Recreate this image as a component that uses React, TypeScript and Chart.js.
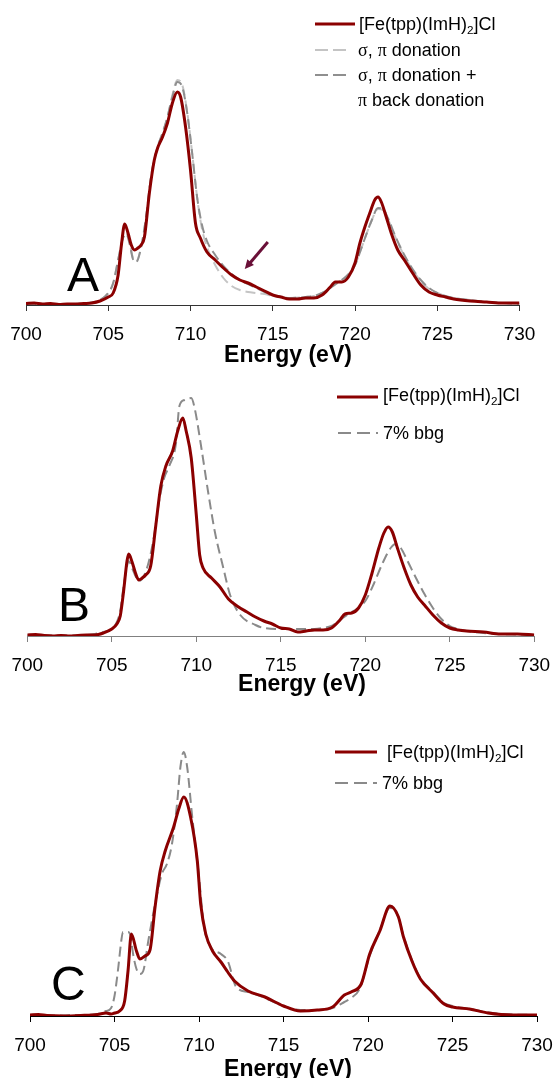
import React, { useEffect, useRef } from "react";
import { Chart, registerables } from "chart.js";

Chart.register(...registerables);

const FONT = "'Liberation Sans', Arial, Helvetica, sans-serif";
const SERIF = "'Liberation Serif', 'DejaVu Serif', 'Times New Roman', serif";
const RED = "#8B0000";
const GREY_LIGHT = "#c4c4c4";
const GREY_DARK = "#8f8f8f";
const GREY_B = "#8a8a8a";
const ARROW_COLOR = "#6a1038";

// ---------------- DATA ----------------
const X_MIN = 700;
const X_MAX = 730;
const X_STEP = 5;

// Panel A: experimental spectrum
const A_EXP_E = [700, 700.5, 701, 701.5, 702, 702.5, 703, 703.5, 704, 704.5, 705, 705.3, 705.6, 705.8, 706, 706.2, 706.4, 706.6, 706.8, 707, 707.2, 707.5, 707.8, 708, 708.3, 708.6, 708.9, 709.2, 709.4, 709.7, 710, 710.3, 710.6, 711, 711.5, 712, 712.5, 713, 713.5, 714, 714.5, 715, 715.5, 716, 716.5, 717, 717.5, 718, 718.5, 718.8, 719.2, 719.6, 720, 720.3, 720.6, 720.9, 721.2, 721.4, 721.6, 721.9, 722.2, 722.6, 723, 723.5, 724, 724.5, 725, 725.5, 726, 727, 728, 729, 730];
const A_EXP_I = [1.5, 2, 1, 1.5, 0.5, 1, 1, 1.5, 2, 4, 8, 12, 30, 60, 81, 72, 60, 55, 57, 60, 68, 112, 145, 157, 168, 182, 202, 213, 208, 178, 135, 82, 67, 53, 45, 37, 30, 25, 22, 18, 14, 10, 8, 6, 6, 7, 7, 10, 18, 23, 23, 28, 42, 62, 78, 92, 105, 108, 103, 88, 72, 55, 45, 32, 20, 13, 10, 8, 6, 4, 3, 2, 2];

// Panel A: sigma, pi donation
const A_SP_E = [700, 701, 702, 703, 703.5, 704, 704.5, 705, 705.3, 705.6, 705.9, 706.1, 706.3, 706.5, 706.7, 707, 707.3, 707.6, 708, 708.3, 708.6, 708.9, 709.2, 709.5, 709.8, 710.1, 710.4, 710.7, 711, 711.5, 712, 712.5, 713, 713.5, 714, 714.5, 715, 715.5, 716, 717, 717.5, 718, 718.5, 719, 719.5, 720, 720.5, 721, 721.4, 721.7, 722, 722.5, 723, 723.5, 724, 724.5, 725, 725.5, 726, 727, 728, 729, 730];
const A_SP_I = [0.5, 0.5, 0.5, 1, 1.5, 2.5, 5, 12, 22, 45, 68, 72, 62, 47, 44, 58, 88, 128, 158, 172, 188, 210, 225, 220, 193, 152, 108, 76, 58, 40, 27, 19, 15, 13, 12, 11, 9, 8, 7, 8, 9, 12, 17, 23, 29, 40, 62, 84, 96, 95, 86, 66, 49, 35, 24, 16, 12, 9, 7, 5, 3, 2, 1];

// Panel A: sigma, pi donation + pi back donation
const A_SPB_E = [700, 702, 703, 704, 704.5, 705, 705.3, 705.6, 705.9, 706.1, 706.3, 706.5, 706.7, 707, 707.3, 707.6, 708, 708.3, 708.6, 708.9, 709.2, 709.5, 709.8, 710.1, 710.4, 710.7, 711, 711.5, 712, 712.5, 713, 713.5, 714, 714.5, 715, 715.5, 716, 717, 717.5, 718, 718.5, 719, 719.5, 720, 720.5, 721, 721.4, 721.7, 722, 722.5, 723, 723.5, 724, 724.5, 725, 725.5, 726, 727, 728, 729, 730];
const A_SPB_I = [0.5, 0.5, 1, 2.5, 5, 12, 22, 45, 67, 71, 61, 46, 43, 58, 88, 128, 158, 172, 188, 208, 223, 218, 192, 152, 108, 80, 64, 50, 39, 31, 25, 21, 17, 13, 10, 8, 7, 8, 9, 12, 17, 23, 29, 40, 62, 84, 97, 96, 87, 67, 50, 36, 25, 17, 12, 9, 7, 5, 3, 2, 1];

// Panel B: experimental spectrum
const B_EXP_E = [700, 700.5, 701, 701.5, 702, 702.5, 703, 703.5, 704, 704.5, 705, 705.3, 705.5, 705.7, 705.9, 706, 706.2, 706.4, 706.6, 706.8, 707, 707.3, 707.6, 707.9, 708.2, 708.6, 708.9, 709.2, 709.4, 709.7, 710, 710.2, 710.4, 710.9, 711.4, 711.9, 712.5, 713, 713.5, 714, 714.5, 715, 715.5, 716, 716.5, 717, 717.5, 718, 718.5, 718.8, 719.2, 719.6, 720, 720.4, 720.8, 721.1, 721.35, 721.6, 721.9, 722.3, 722.7, 723.1, 723.5, 724, 724.5, 725, 725.5, 726, 727, 728, 729, 730];
const B_EXP_I = [1, 1.5, 0.5, 0, 0.5, 0, 0.5, 1, 1, 3, 7, 12, 20, 45, 75, 82, 74, 63, 56, 58, 61, 70, 110, 150, 170, 185, 205, 218, 205, 178, 121, 81, 68, 58, 49, 37, 29, 24, 19, 15, 12, 8, 7, 4, 5, 6, 6, 8, 16, 22, 23, 28, 41, 63, 88, 103, 109, 104, 88, 68, 51, 39, 31, 21, 13, 8, 6, 5, 4, 2, 2, 1];

// Panel B: 7% bbg
const B_BBG_E = [700, 702, 703, 704, 704.5, 705, 705.3, 705.5, 705.7, 705.9, 706, 706.2, 706.4, 706.6, 706.9, 707.2, 707.5, 707.8, 708.1, 708.4, 708.8, 709, 709.3, 709.7, 709.9, 710.3, 710.7, 711.1, 711.6, 712, 712.6, 713.5, 714, 715, 716, 717, 717.5, 718, 718.5, 719, 719.5, 720, 720.5, 721, 721.5, 721.8, 722.1, 722.5, 723, 723.5, 724, 724.5, 725, 725.5, 726, 727, 728, 729, 730];
const B_BBG_I = [0.5, 0.5, 0.5, 2, 4, 7, 14, 25, 50, 70, 75, 68, 60, 55, 60, 75, 100, 135, 158, 170, 193, 230, 236, 238, 228, 188, 144, 104, 68, 41, 21, 11, 8, 7, 7, 7, 8, 10, 16, 22, 27, 35, 52, 72, 88, 92, 88, 75, 58, 42, 28, 17, 10, 7, 5, 3, 2, 1.5, 1];

// Panel C: experimental spectrum
const C_EXP_E = [700, 700.5, 701, 702, 703, 704, 704.5, 704.8, 705, 705.3, 705.6, 705.8, 706, 706.3, 706.5, 706.8, 707.1, 707.4, 707.7, 708, 708.5, 708.8, 709.1, 709.5, 709.9, 710.1, 710.4, 710.8, 711.3, 711.7, 712.1, 712.9, 713.9, 715, 716, 717, 717.9, 718.6, 719, 719.6, 720.1, 720.7, 721.3, 721.8, 722.1, 722.6, 723.1, 723.8, 724.5, 725, 726, 727.1, 728.6, 730];
const C_EXP_I = [1, 1.5, 0.5, 0, 0.5, 1.5, 3, 2, 3, 5, 15, 45, 82, 65, 57, 60, 66, 109, 145, 165, 189, 207, 219, 199, 155, 112, 82, 65, 54, 44, 35, 25, 19, 10, 5, 6, 9, 21, 24, 32, 62, 85, 110, 99, 79, 55, 37, 24, 12, 9, 7, 3, 1, 1];

// Panel C: 7% bbg
const C_BBG_E = [700, 702, 702.5, 703, 704, 704.5, 704.8, 705, 705.2, 705.4, 705.5, 705.8, 705.95, 706.1, 706.3, 706.5, 706.7, 707, 707.4, 707.8, 708.1, 708.4, 708.7, 708.9, 709.1, 709.3, 709.6, 710, 710.3, 710.7, 711.3, 711.7, 712.2, 712.9, 713.9, 715, 716, 717, 717.9, 718.6, 719, 719.5, 720.1, 720.7, 721.3, 721.8, 722.1, 722.6, 723.1, 723.8, 724.5, 725, 726, 727, 728, 730];
const C_BBG_I = [0.5, 0.5, 1, 1, 2, 5, 8, 20, 45, 75, 84, 84, 80, 62, 47, 42, 45, 75, 112, 142, 152, 172, 212, 249, 264, 249, 199, 139, 89, 69, 62, 55, 29, 24, 18, 10, 6, 6, 8, 14, 18, 27, 60, 86, 108, 99, 80, 56, 38, 25, 13, 10, 7, 4, 2, 1];

// Arrow annotation in panel A (energy, intensity)
const ARROW_TAIL = [714.7, 63];
const ARROW_TIP = [713.3, 36];

// Legend labels
const LEGEND_A = ["[Fe(tpp)(ImH)2]Cl", "σ, π donation", "σ, π donation + π back donation"];
const LEGEND_BC = ["[Fe(tpp)(ImH)2]Cl", "7% bbg"];
const AXIS_TITLE = "Energy (eV)";

// ---------------- CHART ----------------
type Series = { label: string; e: number[]; v: number[]; color: string; width: number; dash: number[] };

const arrowPlugin = {
  id: "arrowNote",
  afterDatasetsDraw(chart: any, _args: any, opts: any) {
    if (!opts || !opts.tail) return;
    const xs = chart.scales.x;
    const ys = chart.scales.y;
    const x1 = xs.getPixelForValue(opts.tail[0]);
    const y1 = ys.getPixelForValue(opts.tail[1]);
    const x2 = xs.getPixelForValue(opts.tip[0]);
    const y2 = ys.getPixelForValue(opts.tip[1]);
    const ang = Math.atan2(y2 - y1, x2 - x1);
    const head = 10;
    const ctx = chart.ctx;
    ctx.save();
    ctx.strokeStyle = opts.color;
    ctx.fillStyle = opts.color;
    ctx.lineWidth = 3;
    ctx.beginPath();
    ctx.moveTo(x1, y1);
    ctx.lineTo(x2 - Math.cos(ang) * head * 0.8, y2 - Math.sin(ang) * head * 0.8);
    ctx.stroke();
    ctx.beginPath();
    ctx.moveTo(x2, y2);
    ctx.lineTo(x2 - head * Math.cos(ang - 0.45), y2 - head * Math.sin(ang - 0.45));
    ctx.lineTo(x2 - head * Math.cos(ang + 0.45), y2 - head * Math.sin(ang + 0.45));
    ctx.closePath();
    ctx.fill();
    ctx.restore();
  },
};

const TICK_FONT_SIZE = 19;
const TICK_LINE = 43; // px line box for tick labels
const TICK_LEN = 6;
const TICK_PAD = 2;
const AXIS_BOX = TICK_LEN + TICK_LINE + 2 * TICK_PAD;

function Panel(props: {
  top: number;
  axisY: number;
  padLeft: number;
  padRight: number;
  padTop: number;
  axisColor: string;
  series: Series[];
  arrow?: boolean;
}) {
  const ref = useRef<HTMLCanvasElement | null>(null);
  const height = props.axisY - props.top + AXIS_BOX;
  const yMax = props.axisY - props.top - props.padTop;
  useEffect(() => {
    if (!ref.current) return;
    const chart = new Chart(ref.current, {
      type: "line",
      data: {
        datasets: props.series.map((s) => ({
          label: s.label,
          data: s.e.map((e, i) => ({ x: e, y: s.v[i] })),
          borderColor: s.color,
          backgroundColor: s.color,
          borderWidth: s.width,
          borderDash: s.dash,
          pointRadius: 0,
          fill: false,
          cubicInterpolationMode: "monotone",
        })),
      },
      options: {
        responsive: false,
        maintainAspectRatio: false,
        animation: false,
        layout: { padding: { left: props.padLeft, right: props.padRight, top: props.padTop, bottom: 0 } },
        plugins: {
          legend: { display: false },
          tooltip: { enabled: false },
          // @ts-ignore
          arrowNote: props.arrow ? { tail: ARROW_TAIL, tip: ARROW_TIP, color: ARROW_COLOR } : {},
        },
        scales: {
          x: {
            type: "linear",
            min: X_MIN,
            max: X_MAX,
            ticks: {
              stepSize: X_STEP,
              color: "#000",
              font: { family: FONT, size: TICK_FONT_SIZE, lineHeight: TICK_LINE / TICK_FONT_SIZE },
              padding: TICK_PAD,
              maxRotation: 0,
              autoSkip: false,
            },
            grid: { drawOnChartArea: false, drawTicks: true, tickLength: TICK_LEN, color: props.axisColor },
            border: { display: true, color: props.axisColor, width: 1 },
          },
          y: { display: false, min: 0, max: yMax },
        },
      },
      plugins: [arrowPlugin],
    } as any);
    return () => chart.destroy();
  }, []);
  return (
    <canvas
      ref={ref}
      width={556}
      height={height}
      style={{ position: "absolute", left: 0, top: props.top, width: 556, height }}
    />
  );
}

function LegendLine(props: { x1: number; x2: number; y: number; color: string; width: number; dash?: string }) {
  return (
    <svg style={{ position: "absolute", left: 0, top: props.y - 5 }} width={556} height={10}>
      <line x1={props.x1} x2={props.x2} y1={5} y2={5} stroke={props.color} strokeWidth={props.width} strokeDasharray={props.dash} />
    </svg>
  );
}

function Formula() {
  return (
    <span>
      [Fe(tpp)(ImH)<span style={{ fontSize: "0.65em", position: "relative", top: "0.3em", lineHeight: 0 }}>2</span>]Cl
    </span>
  );
}

function Greek(props: { children: any }) {
  return <span style={{ fontFamily: SERIF }}>{props.children}</span>;
}

const textStyle = (left: number, cy: number): React.CSSProperties => ({
  position: "absolute",
  left,
  top: cy - 11,
  fontFamily: FONT,
  fontSize: 18,
  lineHeight: "22px",
  whiteSpace: "nowrap",
  color: "#000",
});

const letterStyle = (left: number, top: number): React.CSSProperties => ({
  position: "absolute",
  left,
  top,
  fontFamily: FONT,
  fontSize: 48,
  lineHeight: "48px",
  color: "#000",
});

const titleStyle = (cx: number, cy: number): React.CSSProperties => ({
  position: "absolute",
  left: cx - 150,
  width: 300,
  top: cy - 13,
  textAlign: "center",
  fontFamily: FONT,
  fontWeight: "bold",
  fontSize: 23,
  lineHeight: "26px",
  color: "#000",
});

export default function App() {
  const seriesA: Series[] = [
    { label: LEGEND_A[0], e: A_EXP_E, v: A_EXP_I, color: RED, width: 3, dash: [] },
    { label: LEGEND_A[2], e: A_SPB_E, v: A_SPB_I, color: GREY_DARK, width: 2, dash: [10, 5] },
    { label: LEGEND_A[1], e: A_SP_E, v: A_SP_I, color: GREY_LIGHT, width: 2, dash: [10, 5] },
  ];
  const seriesB: Series[] = [
    { label: LEGEND_BC[0], e: B_EXP_E, v: B_EXP_I, color: RED, width: 3, dash: [] },
    { label: LEGEND_BC[1], e: B_BBG_E, v: B_BBG_I, color: GREY_B, width: 2, dash: [10, 5] },
  ];
  const seriesC: Series[] = [
    { label: LEGEND_BC[0], e: C_EXP_E, v: C_EXP_I, color: RED, width: 3, dash: [] },
    { label: LEGEND_BC[1], e: C_BBG_E, v: C_BBG_I, color: GREY_B, width: 2, dash: [10, 5] },
  ];

  return (
    <div style={{ position: "absolute", left: 0, top: 0, width: 556, height: 1078, background: "#fff", overflow: "hidden" }}>
      <Panel top={0} axisY={305} padLeft={26} padRight={36.5} padTop={5} axisColor="#333" series={seriesA} arrow />
      <Panel top={360} axisY={636} padLeft={27.3} padRight={21.7} padTop={10} axisColor="#808080" series={seriesB} />
      <Panel top={700} axisY={1016} padLeft={30} padRight={19} padTop={10} axisColor="#000" series={seriesC} />

      {/* Panel A legend */}
      <LegendLine x1={315} x2={355} y={24} color={RED} width={3} />
      <div style={textStyle(359, 24)}><Formula /></div>
      <LegendLine x1={315} x2={350} y={50} color={GREY_LIGHT} width={2} dash="13 5" />
      <div style={textStyle(358, 50)}><Greek>σ</Greek>, <Greek>π</Greek> donation</div>
      <LegendLine x1={315} x2={350} y={75} color={GREY_DARK} width={2} dash="13 5" />
      <div style={textStyle(358, 75)}><Greek>σ</Greek>, <Greek>π</Greek> donation +</div>
      <div style={textStyle(358, 100)}><Greek>π</Greek> back donation</div>

      {/* Panel B legend */}
      <LegendLine x1={337} x2={378} y={397} color={RED} width={3} />
      <div style={textStyle(383, 395)}><Formula /></div>
      <LegendLine x1={338} x2={378} y={433} color={GREY_B} width={2} dash="13 6" />
      <div style={textStyle(383, 433)}>{LEGEND_BC[1]}</div>

      {/* Panel C legend */}
      <LegendLine x1={335} x2={377} y={752} color={RED} width={3} />
      <div style={textStyle(387, 752)}><Formula /></div>
      <LegendLine x1={335} x2={377} y={783} color={GREY_B} width={2} dash="13 6" />
      <div style={textStyle(382, 783)}>{LEGEND_BC[1]}</div>

      {/* Panel letters */}
      <div style={letterStyle(67, 251)}>A</div>
      <div style={letterStyle(58, 581)}>B</div>
      <div style={letterStyle(51, 960)}>C</div>

      {/* Axis titles */}
      <div style={titleStyle(288, 354)}>{AXIS_TITLE}</div>
      <div style={titleStyle(302, 683)}>{AXIS_TITLE}</div>
      <div style={titleStyle(288, 1068)}>{AXIS_TITLE}</div>
    </div>
  );
}
